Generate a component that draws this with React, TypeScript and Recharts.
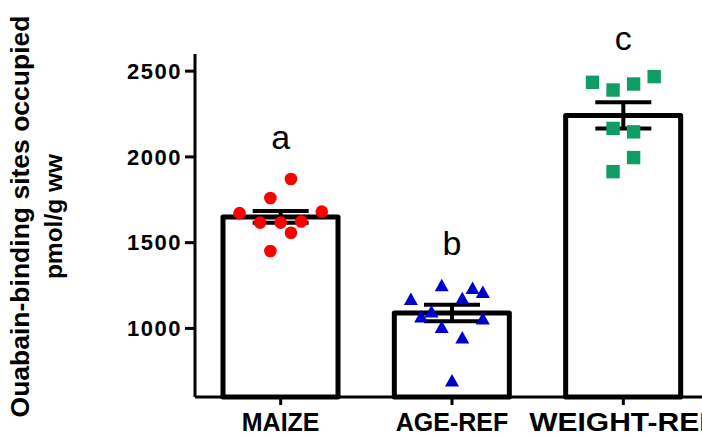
import {
  ComposedChart,
  Bar,
  Scatter,
  ErrorBar,
  XAxis,
  YAxis,
  ReferenceDot,
} from "recharts";

// groups and bar heights (mean) with SEM
const groups = ["MAIZE", "AGE-REF", "WEIGHT-REF"];
const groupMeans = [1650, 1090, 2242];
const groupSem = [34, 48, 76];
const groupLetters = ["a", "b", "c"];
const letterLevels = [2116, 1498, 2693];

// individual animals; jitter slots are the horizontal offsets of the dots
const maizeValues = [1871, 1760, 1672, 1681, 1617, 1617, 1623, 1558, 1451];
const maizeJitter = [1, -1, -4, 4, -2, 0, 2, 1, -1];
const ageRefValues = [1252, 1236, 1212, 1171, 1176, 1099, 1070, 1057, 1008, 947, 696];
const ageRefJitter = [-1, 2, 3, -4, 1, -2, -3, 3, -1, 1, 0];
const weightRefValues = [2435, 2390, 2425, 2468, 2166, 2146, 1996, 1914];
const weightRefJitter = [-3, -1, 1, 3, -1, 1, 1, -1];

const yTicks = [1000, 1500, 2000, 2500];

const JITTER_STEP = 0.06;
const FONT = "'Liberation Sans', Arial, Helvetica, sans-serif";

const barData = groups.map((name, i) => ({ name, mean: groupMeans[i] }));
const meanData = groups.map((_, i) => ({ x: i + 0.5, y: groupMeans[i], err: groupSem[i] }));

const toPoints = (values: number[], jitter: number[], idx: number) =>
  values.map((v, i) => ({ x: idx + 0.5 + jitter[i] * JITTER_STEP, y: v }));

const maizePts = toPoints(maizeValues, maizeJitter, 0);
const agePts = toPoints(ageRefValues, ageRefJitter, 1);
const weightPts = toPoints(weightRefValues, weightRefJitter, 2);

const Dot = ({ cx, cy }: any) => <circle cx={cx} cy={cy} r={6.3} fill="#FF0000" />;
const Tri = ({ cx, cy }: any) => (
  <polygon
    points={`${cx},${cy - 6.5} ${cx + 7},${cy + 6} ${cx - 7},${cy + 6}`}
    fill="#0000CC"
  />
);
const Sq = ({ cx, cy }: any) => (
  <rect x={cx - 6.7} y={cy - 6.7} width={13.4} height={13.4} fill="#0F9D63" />
);

// category labels; the last one is drawn wider in the original
const XTick = ({ x, y, payload }: any) => {
  const sx = payload.value === "WEIGHT-REF" ? 1.2 : 1;
  return (
    <text
      x={0}
      y={0}
      dy="0.71em"
      textAnchor="middle"
      fill="#000"
      fontSize={25}
      fontWeight="bold"
      fontFamily={FONT}
      transform={`translate(${x} ${y}) scale(${sx} 1)`}
    >
      {payload.value}
    </text>
  );
};

const YLabel = ({ viewBox }: any) => {
  const cy = viewBox.y + viewBox.height / 2 - 9;
  const x1 = viewBox.x + 20;
  const x2 = viewBox.x + 53;
  return (
    <g fontFamily={FONT} fontWeight="bold" fill="#000">
      <text
        x={x1}
        y={cy}
        fontSize={26.5}
        textAnchor="middle"
        dominantBaseline="central"
        transform={`rotate(-90 ${x1} ${cy})`}
      >
        Ouabain-binding sites occupied
      </text>
      <text
        x={x2}
        y={cy}
        fontSize={24.5}
        textAnchor="middle"
        dominantBaseline="central"
        transform={`rotate(-90 ${x2} ${cy})`}
      >
        pmol/g ww
      </text>
    </g>
  );
};

export default function App() {
  return (
    <div
      style={{
        position: "absolute",
        left: 0,
        top: 0,
        width: 702,
        height: 436,
        overflow: "hidden",
        background: "#fff",
      }}
    >
      <ComposedChart
        width={712}
        height={436}
        data={barData}
        margin={{ top: 54, right: 3, left: 0, bottom: 0 }}
      >
        <XAxis
          dataKey="name"
          height={39}
          tickSize={8}
          tickMargin={8}
          axisLine={{ stroke: "#000", strokeWidth: 3 }}
          tickLine={{ stroke: "#000", strokeWidth: 3 }}
          tick={<XTick />}
        />
        <XAxis xAxisId="num" type="number" dataKey="x" domain={[0, 3]} hide />
        <YAxis
          width={195}
          domain={[600, 2600]}
          ticks={yTicks}
          tickSize={10}
          tickMargin={3}
          axisLine={{ stroke: "#000", strokeWidth: 3 }}
          tickLine={{ stroke: "#000", strokeWidth: 3 }}
          tick={{
            fill: "#000",
            fontSize: 22,
            fontWeight: "bold",
            fontFamily: FONT,
            letterSpacing: 1.5,
          }}
          label={<YLabel />}
        />
        <Bar
          dataKey="mean"
          fill="#fff"
          stroke="#000"
          strokeWidth={5}
          strokeLinejoin="round"
          barSize={115}
          isAnimationActive={false}
        />
        <Scatter xAxisId="num" data={maizePts} dataKey="y" shape={<Dot />} isAnimationActive={false} />
        <Scatter xAxisId="num" data={agePts} dataKey="y" shape={<Tri />} isAnimationActive={false} />
        <Scatter xAxisId="num" data={weightPts} dataKey="y" shape={<Sq />} isAnimationActive={false} />
        <Scatter
          xAxisId="num"
          data={meanData}
          dataKey="y"
          shape={() => <g />}
          isAnimationActive={false}
        >
          <ErrorBar dataKey="err" direction="y" width={28} stroke="#000" strokeWidth={4} />
        </Scatter>
        {groupLetters.map((letter, i) => (
          <ReferenceDot
            key={letter}
            xAxisId="num"
            x={i + 0.5}
            y={letterLevels[i]}
            r={0}
            fill="none"
            stroke="none"
            ifOverflow="visible"
            label={{
              value: letter,
              position: "center",
              fontSize: 34,
              fill: "#000",
              fontFamily: FONT,
            }}
          />
        ))}
      </ComposedChart>
    </div>
  );
}
